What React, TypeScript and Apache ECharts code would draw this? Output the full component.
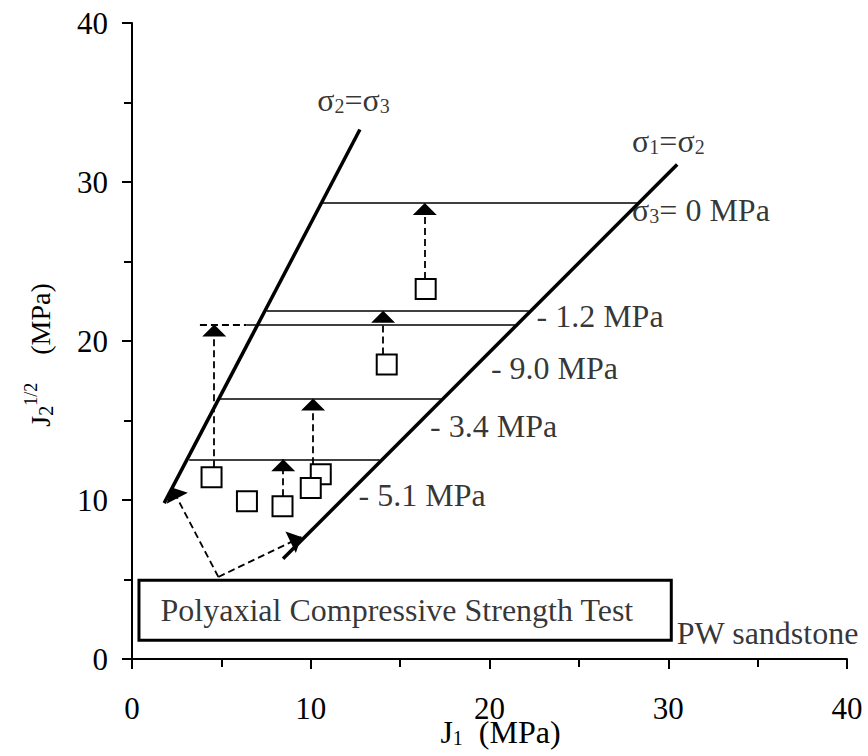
import React, { useEffect, useRef } from 'react';
import * as echarts from 'echarts';

const FONT = 'Liberation Serif, Times New Roman, serif';

// Axis extents (MPa)
const axisMin = 0;
const axisMax = 40;
const axisInterval = 10;

// Test data: J1 vs sqrt(J2)
const pointsJ1 = [4.45, 6.43, 8.42, 10.56, 10.0, 14.25, 16.43];
const pointsSqrtJ2 = [11.43, 9.92, 9.6, 11.62, 10.76, 18.52, 23.27];

// Meridians
const compressionMeridianJ1 = [1.8, 12.75];
const compressionMeridianSqrtJ2 = [9.8, 33.3];
const extensionMeridianJ1 = [8.45, 30.5];
const extensionMeridianSqrtJ2 = [6.3, 31.1];

// sigma3 levels (horizontal lines)
const levelSqrtJ2 = [28.68, 21.91, 21.03, 16.38, 12.56];
const levelStartJ1 = [10.6, 7.53, 6.4, 4.83, 3.2];
const levelEndJ1 = [28.3, 22.2, 21.6, 17.31, 13.86];

// vertical dashed arrows
const arrowJ1 = [4.6, 8.46, 10.13, 14.05, 16.38];
const arrowFromSqrtJ2 = [12.06, 10.23, 12.25, 19.15, 23.9];
const arrowToSqrtJ2 = [21.03, 12.56, 16.38, 21.91, 28.68];

// dashed guide line
const guideJ1 = [3.8, 6.4];
const guideSqrtJ2 = [21.03, 21.03];

// pointer arrows from the test box
const pointerOriginJ1 = 4.83;
const pointerOriginSqrtJ2 = 5.16;
const pointerTargetJ1 = [2.22, 9.48];
const pointerTargetSqrtJ2 = [10.78, 7.67];

// box corners
const boxJ1 = [0.39, 30.17];
const boxSqrtJ2 = [4.95, 1.18];

// annotations
const annotationTexts = [
  'σ{s|2}=σ{s|3}',
  'σ{s|1}=σ{s|2}',
  'σ{s|3}= 0 MPa',
  '- 1.2 MPa',
  '- 9.0 MPa',
  '- 3.4 MPa',
  '- 5.1 MPa',
  'Polyaxial Compressive Strength Test',
  'PW sandstone',
];
const annotationJ1 = [10.34, 27.95, 27.95, 22.6, 20.05, 16.65, 12.65, 1.57, 30.45];
const annotationSqrtJ2 = [35.14, 32.59, 28.25, 21.55, 18.28, 14.63, 10.33, 3.06, 1.65];

const ARROW = 'path://M0,0L0,0.01M0,12L5,24L-5,24Z';

export default function App() {
  const ref = useRef<HTMLDivElement>(null);

  useEffect(() => {
    if (!ref.current) return;
    const chart = echarts.init(ref.current, undefined, { renderer: 'svg' });

    const axisCommon = {
      type: 'value' as const,
      min: axisMin,
      max: axisMax,
      interval: axisInterval,
      axisLine: { show: true, onZero: false, lineStyle: { color: '#000', width: 2 } },
      axisTick: { show: true, length: 10, lineStyle: { color: '#000', width: 2 } },
      minorTick: { show: true, splitNumber: 2, length: 8, lineStyle: { color: '#000', width: 2 } },
      splitLine: { show: false },
      minorSplitLine: { show: false },
      nameMoveOverlap: false,
    };

    const nameRich = {
      sub: { fontSize: 20, fontFamily: FONT, color: '#000', padding: [12, 0, 0, 0] },
      sup: { fontSize: 18, fontFamily: FONT, color: '#000', padding: [0, 0, 18, 0] },
    };

    const option: any = {
      animation: false,
      backgroundColor: '#fff',
      grid: {
        left: 132,
        right: 21,
        top: 23,
        bottom: 97,
        containLabel: false,
        outerBoundsMode: 'none',
      },
      xAxis: {
        ...axisCommon,
        name: 'J{sub|1}  (MPa)',
        nameLocation: 'middle',
        nameGap: 57,
        nameTextStyle: {
          fontSize: 32,
          fontFamily: FONT,
          color: '#000',
          padding: [0, 0, 0, 22],
          rich: nameRich,
        },
        axisLabel: { fontSize: 31, fontFamily: FONT, color: '#000', margin: 34 },
      },
      yAxis: {
        ...axisCommon,
        name: 'J{sub|2}{sup|1/2}    (MPa)',
        nameLocation: 'middle',
        nameRotate: 90,
        nameGap: 74,
        nameTextStyle: {
          fontSize: 28,
          fontFamily: FONT,
          color: '#000',
          padding: [0, 28, 0, 0],
          rich: nameRich,
        },
        axisLabel: { fontSize: 31, fontFamily: FONT, color: '#000', margin: 24 },
      },
      series: [
        {
          type: 'line',
          silent: true,
          symbol: 'none',
          data: compressionMeridianJ1.map((x, i) => [x, compressionMeridianSqrtJ2[i]]),
          lineStyle: { color: '#000', width: 3.5 },
          z: 3,
          markArea: {
            silent: true,
            itemStyle: { color: '#fff', borderColor: '#000', borderWidth: 3 },
            data: [[{ coord: [boxJ1[0], boxSqrtJ2[0]] }, { coord: [boxJ1[1], boxSqrtJ2[1]] }]],
          },
        },
        {
          type: 'line',
          silent: true,
          symbol: 'none',
          data: extensionMeridianJ1.map((x, i) => [x, extensionMeridianSqrtJ2[i]]),
          lineStyle: { color: '#000', width: 3.5 },
          z: 3,
        },
        {
          type: 'lines',
          coordinateSystem: 'cartesian2d',
          silent: true,
          symbol: 'none',
          lineStyle: { color: '#000', width: 1.5, opacity: 1, type: 'solid' },
          data: levelSqrtJ2.map((y, i) => ({ coords: [[levelStartJ1[i], y], [levelEndJ1[i], y]] })),
          z: 2,
        },
        {
          type: 'lines',
          coordinateSystem: 'cartesian2d',
          silent: true,
          symbol: 'none',
          lineStyle: { color: '#000', width: 1.8, opacity: 1, type: [7, 4] },
          data: [{ coords: [[guideJ1[0], guideSqrtJ2[0]], [guideJ1[1], guideSqrtJ2[1]]] }],
          z: 2,
        },
        {
          type: 'lines',
          coordinateSystem: 'cartesian2d',
          silent: true,
          symbol: ['none', ARROW],
          symbolSize: [10, 24],
          lineStyle: { color: '#000', width: 1.8, opacity: 1, type: [7, 4] },
          data: arrowJ1.map((x, i) => ({ coords: [[x, arrowFromSqrtJ2[i]], [x, arrowToSqrtJ2[i]]] })),
          z: 4,
        },
        {
          type: 'lines',
          coordinateSystem: 'cartesian2d',
          silent: true,
          symbol: ['none', ARROW],
          symbolSize: [10, 24],
          lineStyle: { color: '#000', width: 1.8, opacity: 1, type: [7, 4] },
          data: pointerTargetJ1.map((x, i) => ({
            coords: [[pointerOriginJ1, pointerOriginSqrtJ2], [x, pointerTargetSqrtJ2[i]]],
          })),
          z: 4,
        },
        {
          type: 'scatter',
          silent: true,
          symbol: 'rect',
          symbolSize: 20,
          itemStyle: { color: '#fff', borderColor: '#000', borderWidth: 2, opacity: 1 },
          data: pointsJ1.map((x, i) => [x, pointsSqrtJ2[i]]),
          z: 5,
        },
        {
          type: 'scatter',
          silent: true,
          symbol: 'circle',
          symbolSize: 1,
          itemStyle: { color: 'rgba(0,0,0,0)' },
          data: annotationTexts.map((t, i) => ({ name: t, value: [annotationJ1[i], annotationSqrtJ2[i]] })),
          label: {
            show: true,
            position: 'right',
            distance: 0,
            formatter: '{b}',
            fontSize: 32,
            fontFamily: FONT,
            color: '#000',
            rich: {
              s: { fontSize: 20, fontFamily: FONT, color: '#000', padding: [12, 0, 0, 0] },
            },
          },
          z: 6,
        },
      ],
    };

    chart.setOption(option);
    return () => chart.dispose();
  }, []);

  return (
    <div
      ref={ref}
      style={{ position: 'fixed', left: 0, top: 0, width: 868, height: 756, background: '#fff' }}
    />
  );
}
